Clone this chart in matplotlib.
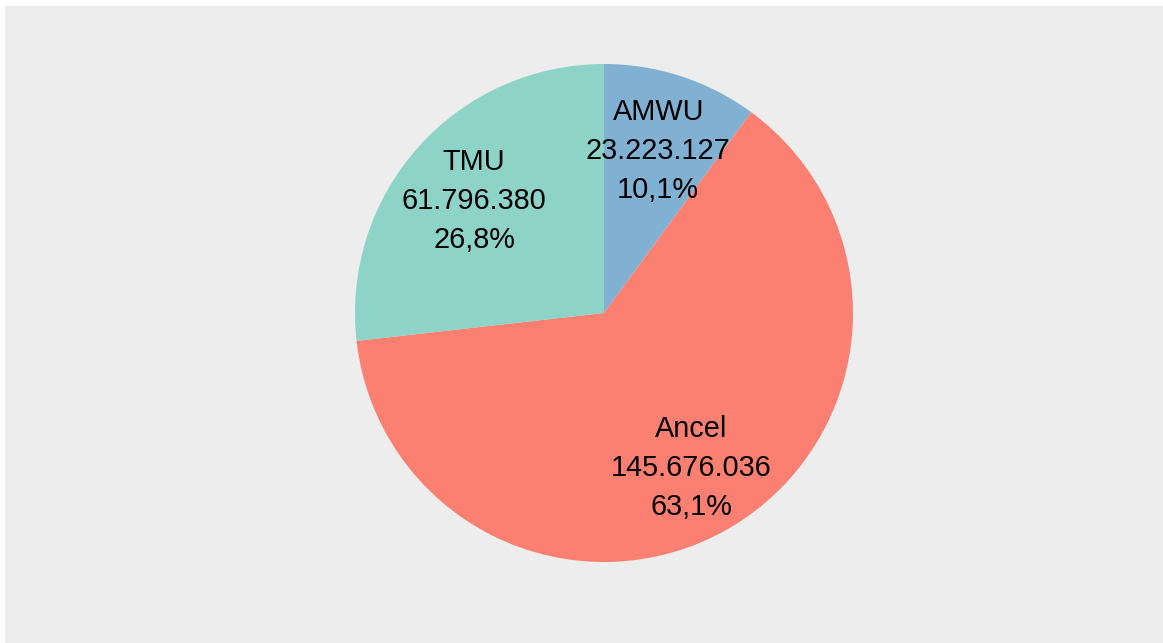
import matplotlib
matplotlib.use('Agg')
import matplotlib.pyplot as plt
from matplotlib.patches import Rectangle

plt.rcParams['font.family'] = ['Liberation Sans', 'DejaVu Sans']

names = ['AMWU', 'Ancel', 'TMU']
values = [23223127, 145676036, 61796380]
colors = ['#80B1D3', '#FB8072', '#8DD3C7']

total = sum(values)

def fmt_num(v):
    return f'{v:,}'.replace(',', '.')

# name / value / percent with comma decimal
labels = [f'{n}\n{fmt_num(v)}\n' + f'{v / total * 100:.1f}'.replace('.', ',') + '%'
          for n, v in zip(names, values)]

W, H = 1163, 643
fig = plt.figure(figsize=(W / 100, H / 100), dpi=100)
fig.patch.set_facecolor('white')
bg = Rectangle((5 / W, 0), 1 - 5 / W, 1 - 6 / H, transform=fig.transFigure,
               facecolor='#EDEDED', edgecolor='none', zorder=-10)
fig.patches.append(bg)

cx, cy, r = 604, H - 313, 249
ax = fig.add_axes([(cx - r) / W, (cy - r) / H, 2 * r / W, 2 * r / H])
ax.set_zorder(5)
ax.set_facecolor('none')
wedges, texts = ax.pie(values, colors=colors, startangle=90, counterclock=False,
                       labels=labels, labeldistance=0.70,
                       wedgeprops=dict(linewidth=0, edgecolor='none'),
                       textprops=dict(fontsize=20.8, ha='center', va='center', linespacing=1.5))
for t in texts:
    t.set_horizontalalignment('center')
    x, y = t.get_position()
    t.set_position((x, y - 4 / r))
ax.set_xlim(-1, 1)
ax.set_ylim(-1, 1)
ax.set_aspect('equal')
ax.axis('off')

fig.savefig('out.png', dpi=100, facecolor=fig.get_facecolor())
